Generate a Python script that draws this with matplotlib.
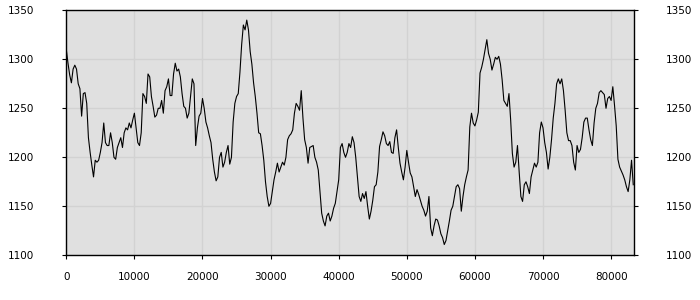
import numpy as np
import matplotlib.pyplot as plt

# one value every 250 units along x
x_step = 250
values = [
    1310, 1296, 1284, 1276, 1290, 1294, 1290, 1275, 1270, 1242, 1265, 1266, 1255, 1220, 1205, 1192, 1180, 1197, 1195, 1197,
    1205, 1215, 1235, 1215, 1212, 1212, 1225, 1215, 1200, 1198, 1210, 1215, 1220, 1210, 1225, 1230, 1228, 1235, 1230, 1238,
    1245, 1230, 1215, 1212, 1225, 1265, 1262, 1255, 1285, 1282, 1262, 1252, 1241, 1243, 1250, 1250, 1258, 1245, 1268, 1272,
    1280, 1263, 1263, 1285, 1296, 1288, 1290, 1282, 1265, 1252, 1250, 1240, 1245, 1262, 1280, 1275, 1212, 1230, 1242, 1245,
    1260, 1250, 1236, 1230, 1222, 1215, 1198, 1185, 1176, 1180, 1200, 1205, 1190, 1195, 1205, 1212, 1193, 1200, 1236, 1255,
    1262, 1265, 1287, 1315, 1335, 1330, 1340, 1330, 1308, 1295, 1276, 1262, 1245, 1225, 1224, 1212, 1197, 1175, 1160, 1150,
    1153, 1165, 1177, 1185, 1194, 1185, 1190, 1195, 1192, 1200, 1218, 1222, 1224, 1228, 1245, 1255, 1252, 1248, 1268, 1240,
    1218, 1210, 1194, 1210, 1211, 1212, 1200, 1195, 1187, 1165, 1143, 1135, 1130, 1140, 1143, 1135, 1140, 1148, 1153, 1165,
    1177, 1210, 1214, 1205, 1200, 1205, 1214, 1210, 1221, 1215, 1200, 1180, 1160, 1155, 1163, 1158, 1165, 1150, 1137, 1145,
    1156, 1170, 1172, 1185, 1211, 1218, 1226, 1222, 1214, 1212, 1216, 1205, 1204, 1220, 1228, 1210, 1194, 1185, 1177, 1190,
    1207, 1195, 1184, 1180, 1170, 1160, 1167, 1162, 1156, 1150, 1146, 1140, 1145, 1160, 1128, 1120, 1130, 1137, 1136, 1130,
    1122, 1118, 1111, 1115, 1125, 1135, 1146, 1150, 1160, 1170, 1172, 1168, 1145, 1160, 1172, 1180, 1187, 1231, 1245, 1235,
    1232, 1238, 1246, 1286, 1292, 1300, 1310, 1320, 1306, 1300, 1289, 1295, 1302, 1300, 1303, 1295, 1279, 1258, 1255, 1252,
    1265, 1238, 1204, 1190, 1195, 1212, 1185, 1160, 1155, 1172, 1175, 1170, 1163, 1180, 1187, 1194, 1190, 1195, 1225, 1236,
    1230, 1215, 1205, 1188, 1200, 1218, 1240, 1255, 1275, 1280, 1275, 1280, 1268, 1248, 1225, 1217, 1217, 1212, 1195, 1187,
    1212, 1205, 1208, 1220, 1236, 1240, 1240, 1228, 1218, 1212, 1235, 1250, 1255, 1266, 1268, 1266, 1264, 1250, 1260, 1262,
    1258, 1272, 1253, 1232, 1198, 1190, 1186, 1182, 1177, 1170, 1165, 1177, 1197, 1172,
]
x = np.arange(len(values)) * x_step

x_ticks = [0, 10000, 20000, 30000, 40000, 50000, 60000, 70000, 80000]
y_ticks = [1100, 1150, 1200, 1250, 1300, 1350]

fig = plt.figure(figsize=(7, 3), dpi=100)
ax = fig.add_axes([0.0947, 0.149, 0.8114, 0.8167])
ax.set_facecolor('#e0e0e0')
ax.plot(x, values, color='black', linewidth=0.8)

ax.set_xlim(0, 83400)
ax.set_ylim(1100, 1350)
ax.set_xticks(x_ticks)
ax.set_yticks(y_ticks)
ax.grid(True, color='#d2d2d2', linewidth=1)
ax.set_axisbelow(True)

ax.tick_params(axis='x', length=3, pad=9, labelsize=7.5)
ax.tick_params(axis='y', left=True, right=True, length=3,
               labelleft=True, labelright=True, pad=20, labelsize=7.5)
for s in ax.spines.values():
    s.set_linewidth(1)

fig.savefig('out.png', dpi=100)
